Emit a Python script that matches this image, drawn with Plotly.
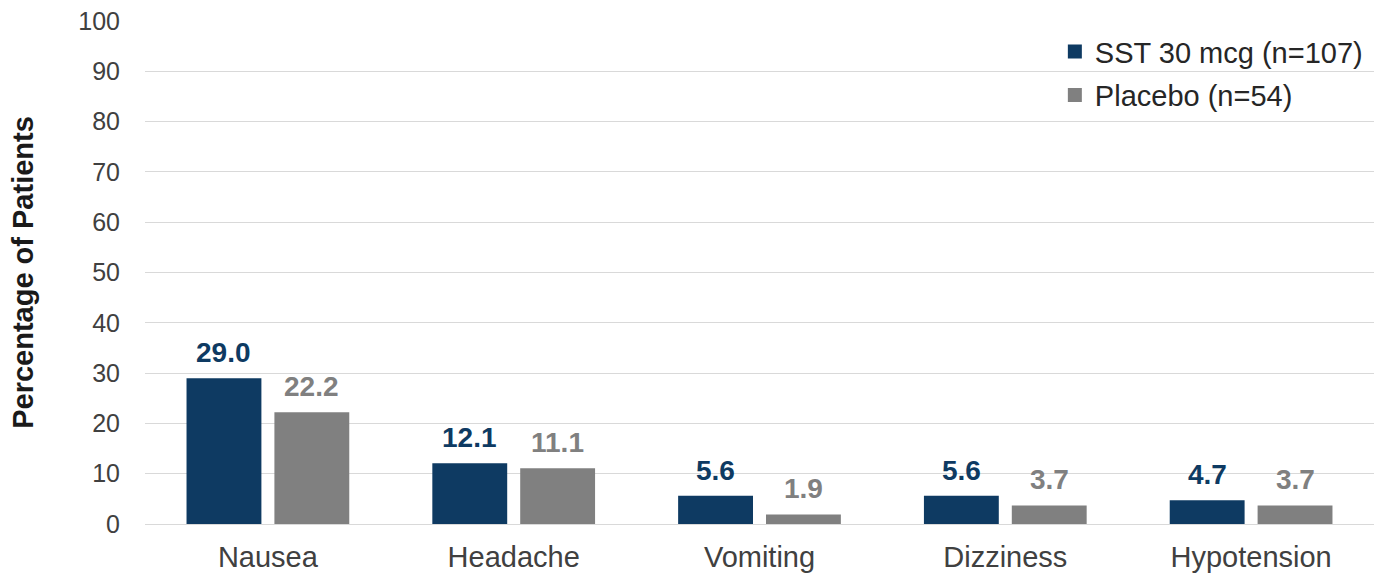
import plotly.graph_objects as go

categories = ["Nausea", "Headache", "Vomiting", "Dizziness", "Hypotension"]
sst_values = [29.0, 12.1, 5.6, 5.6, 4.7]
placebo_values = [22.2, 11.1, 1.9, 3.7, 3.7]
series_names = ["SST 30 mcg (n=107)", "Placebo (n=54)"]
y_ticks = list(range(0, 101, 10))

NAVY = "#0E3A62"
GREY = "#808080"
FONT = "Liberation Sans, Arial, sans-serif"

fig = go.Figure()
series = [(series_names[0], sst_values, NAVY, -44), (series_names[1], placebo_values, GREY, 44)]
for name, vals, col, shift in series:
    fig.add_trace(go.Bar(
        x=categories, y=vals, name=name, marker=dict(color=col, line=dict(width=0)),
        showlegend=False, hoverinfo="x+y",
    ))
    fig.add_trace(go.Scatter(
        x=[None], y=[None], mode="markers", name=name, legendgroup=name,
        marker=dict(symbol="square", size=14, color=col),
    ))
    for c, v in zip(categories, vals):
        fig.add_annotation(
            x=c, y=v, xref="x", yref="y", text=f"<b>{v:.1f}</b>", showarrow=False,
            xanchor="center", yanchor="bottom", xshift=shift, yshift=8,
            font=dict(family=FONT, size=28, color=col),
        )

fig.update_layout(
    width=1380, height=579,
    margin=dict(l=145, r=6, t=21, b=55),
    paper_bgcolor="white", plot_bgcolor="white",
    barmode="group", bargap=0.285, bargroupgap=0.148,
    font=dict(family=FONT, color="#404040", size=24),
    legend=dict(x=0.995, xanchor="right", y=0.99, yanchor="top",
                font=dict(size=29, color="#262626"), itemwidth=30,
                tracegroupgap=3, bgcolor="rgba(0,0,0,0)"),
    xaxis=dict(showgrid=False, showline=False, ticks="", ticklabelstandoff=13,
               tickfont=dict(size=29, color="#404040")),
    yaxis=dict(range=[0, 100], tickvals=y_ticks, showgrid=True, gridcolor="#D9D9D9",
               gridwidth=1, zeroline=True, zerolinecolor="#D9D9D9", zerolinewidth=1,
               ticks="", ticklabelstandoff=24, tickfont=dict(size=25, color="#404040"),
               title=dict(text="<b>Percentage of Patients</b>", standoff=36,
                          font=dict(size=29, color="#1a1a1a"))),
)

fig.write_html("out.html")
